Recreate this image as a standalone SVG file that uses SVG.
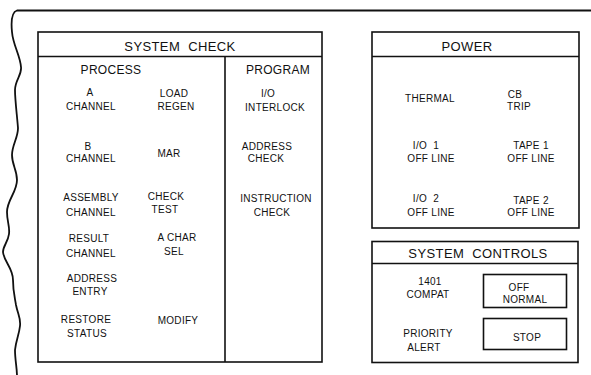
<svg xmlns="http://www.w3.org/2000/svg" width="591" height="375" viewBox="0 0 591 375">
<style>
.bg{fill:#fff}
.box{fill:none;stroke:#111;stroke-width:1.6}
.line{stroke:#111;stroke-width:1.6;fill:none}
.edge{stroke:#111;stroke-width:1.8;fill:none;stroke-linecap:round}
text{font-family:"Liberation Sans",Arial,sans-serif;fill:#111;text-anchor:middle}
.lbl{font-size:10px;letter-spacing:0.3px}
.hdr{font-size:13px;letter-spacing:0.4px;word-spacing:4px}
.sub{font-size:12px;letter-spacing:0.3px}
</style>
<rect class="bg" x="0" y="0" width="591" height="375"/>
<g id="frame">
<path class="edge" d="M591,10.5 L17,10.5 C12,12 11,22 12,32 C13,45 20,55 21,67 C22,75 15,80 15,90 C15,100 17,115 18,128 C18,138 12,145 12,155 C12,165 17,170 17,180 C17,192 7,200 7,212 C7,222 10,226 9,234 C8,242 3,246 3,252 C4,262 13,268 13,280 C13,292 15,298 16,305 C18,315 21,318 20,326 C19,335 16,340 15,350 C15,360 17,368 17,376"/>
</g>
<g id="system-check">
<rect class="box" x="38" y="32" width="284" height="330"/>
<line class="line" x1="38" y1="56.5" x2="322" y2="56.5"/>
<line class="line" x1="225" y1="56.5" x2="225" y2="362"/>
<text class="hdr" x="180" y="50.7">SYSTEM CHECK</text>
</g>
<g id="process">
<text class="sub" x="111" y="74.3">PROCESS</text>
<text class="lbl"><tspan x="90" y="95.5">A</tspan><tspan x="91" y="109.5">CHANNEL</tspan></text>
<text class="lbl"><tspan x="174" y="96.5">LOAD</tspan><tspan x="176" y="109.5">REGEN</tspan></text>
<text class="lbl"><tspan x="88" y="149.5">B</tspan><tspan x="91" y="161.5">CHANNEL</tspan></text>
<text class="lbl" x="169" y="156.5">MAR</text>
<text class="lbl"><tspan x="91" y="200.5">ASSEMBLY</tspan><tspan x="91" y="215.5">CHANNEL</tspan></text>
<text class="lbl"><tspan x="166" y="199.5">CHECK</tspan><tspan x="165" y="212.5">TEST</tspan></text>
<text class="lbl"><tspan x="89" y="241.5">RESULT</tspan><tspan x="91" y="256.5">CHANNEL</tspan></text>
<text class="lbl"><tspan x="177" y="240.5">A CHAR</tspan><tspan x="174" y="254.5">SEL</tspan></text>
<text class="lbl"><tspan x="92" y="281.5">ADDRESS</tspan><tspan x="90" y="294.5">ENTRY</tspan></text>
<text class="lbl"><tspan x="86" y="322.5">RESTORE</tspan><tspan x="87" y="336.5">STATUS</tspan></text>
<text class="lbl" x="178" y="323.5">MODIFY</text>
</g>
<g id="program">
<text class="sub" x="278" y="74.3">PROGRAM</text>
<text class="lbl"><tspan x="268" y="96.5">I/O</tspan><tspan x="275" y="110.5">INTERLOCK</tspan></text>
<text class="lbl"><tspan x="267" y="149.5">ADDRESS</tspan><tspan x="266" y="161.5">CHECK</tspan></text>
<text class="lbl"><tspan x="276" y="201.5">INSTRUCTION</tspan><tspan x="272" y="215.5">CHECK</tspan></text>
</g>
<g id="power">
<rect class="box" x="372" y="32" width="207" height="196"/>
<line class="line" x1="372" y1="56.5" x2="579" y2="56.5"/>
<text class="hdr" x="467" y="50.7">POWER</text>
<text class="lbl" x="430" y="101.5">THERMAL</text>
<text class="lbl"><tspan x="515" y="97.5">CB</tspan><tspan x="519" y="109.5">TRIP</tspan></text>
<text class="lbl" xml:space="preserve"><tspan x="426" y="148.5">I/O  1</tspan><tspan x="431" y="161.5">OFF LINE</tspan></text>
<text class="lbl"><tspan x="531" y="148.5">TAPE 1</tspan><tspan x="531" y="161.5">OFF LINE</tspan></text>
<text class="lbl" xml:space="preserve"><tspan x="426" y="201.5">I/O  2</tspan><tspan x="431" y="215.5">OFF LINE</tspan></text>
<text class="lbl"><tspan x="531" y="203.5">TAPE 2</tspan><tspan x="531" y="215.5">OFF LINE</tspan></text>
</g>
<g id="system-controls">
<rect class="box" x="372" y="241.5" width="206" height="121"/>
<line class="line" x1="372" y1="263.5" x2="578" y2="263.5"/>
<text class="hdr" x="478" y="257.7">SYSTEM CONTROLS</text>
<text class="lbl"><tspan x="430" y="284.5">1401</tspan><tspan x="428" y="297.5">COMPAT</tspan></text>
<text class="lbl"><tspan x="428" y="336.5">PRIORITY</tspan><tspan x="424" y="350.5">ALERT</tspan></text>
</g>
<g id="off-normal">
<rect class="box" x="483.5" y="274.5" width="83" height="33"/>
<text class="lbl"><tspan x="519" y="290.5">OFF</tspan><tspan x="525" y="302.5">NORMAL</tspan></text>
</g>
<g id="stop">
<rect class="box" x="483.5" y="318.5" width="83" height="31"/>
<text class="lbl" x="527" y="340.5">STOP</text>
</g>
</svg>
